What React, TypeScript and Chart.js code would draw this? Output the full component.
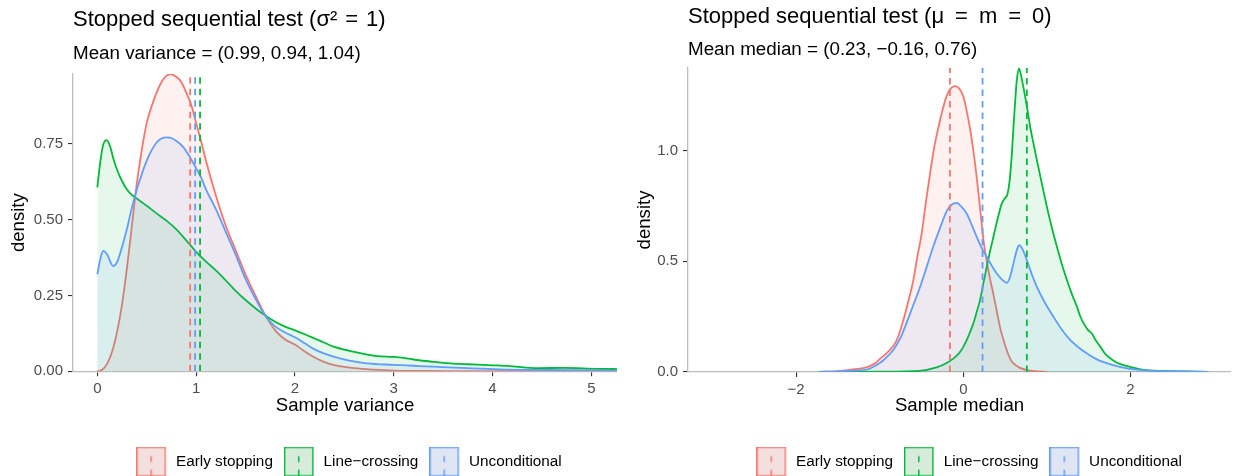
import React, { useEffect, useRef } from "react";
import { Chart, registerables } from "chart.js";

Chart.register(...registerables);

const FONT = "'Liberation Sans', Arial, Helvetica, sans-serif";
Chart.defaults.font.family = FONT;

// ---------- series meta ----------
const seriesNames = ["Early stopping", "Line\u2212crossing", "Unconditional"];
const seriesColors = ["#F8766D", "#00BA38", "#619CFF"];
const seriesFills = ["rgba(248,118,109,0.1)", "rgba(0,186,56,0.1)", "rgba(97,156,255,0.1)"];
const legendKeyFills = ["#F3DFDE", "#D7EBDB", "#DFE5F2"];

// ---------- left panel: sample variance densities ----------
const varEarly: [number, number][] = [
  [0, 0], [0.05, 0.005], [0.1, 0.025], [0.15, 0.065], [0.2, 0.13], [0.25, 0.22], [0.3, 0.34], [0.35, 0.48],
  [0.4, 0.62], [0.45, 0.73], [0.5, 0.82], [0.55, 0.875], [0.6, 0.92], [0.65, 0.955], [0.7, 0.975], [0.74, 0.981],
  [0.8, 0.972], [0.85, 0.955], [0.9, 0.92], [0.95, 0.88], [1.0, 0.82], [1.05, 0.76], [1.1, 0.695], [1.2, 0.58],
  [1.3, 0.48], [1.4, 0.4], [1.5, 0.32], [1.6, 0.25], [1.7, 0.185], [1.8, 0.135], [1.9, 0.105], [2.0, 0.088],
  [2.1, 0.065], [2.2, 0.045], [2.3, 0.03], [2.4, 0.02], [2.6, 0.01], [2.8, 0.005], [3.0, 0.002], [3.5, 0.0005],
  [4.0, 0], [5.3, 0],
];
const varLine: [number, number][] = [
  [0, 0.607], [0.03, 0.69], [0.06, 0.748], [0.095, 0.763], [0.13, 0.742], [0.16, 0.705], [0.2, 0.665], [0.25, 0.628],
  [0.3, 0.6], [0.35, 0.582], [0.4, 0.57], [0.45, 0.558], [0.5, 0.546], [0.6, 0.521], [0.7, 0.497], [0.8, 0.468],
  [0.9, 0.432], [1.0, 0.394], [1.1, 0.362], [1.2, 0.333], [1.3, 0.3], [1.4, 0.265], [1.5, 0.235], [1.6, 0.208],
  [1.7, 0.184], [1.8, 0.163], [1.9, 0.147], [2.0, 0.135], [2.1, 0.122], [2.2, 0.108], [2.3, 0.094], [2.4, 0.08],
  [2.5, 0.071], [2.6, 0.064], [2.7, 0.057], [2.83, 0.05], [3.0, 0.047], [3.1, 0.044], [3.23, 0.037], [3.4, 0.031],
  [3.57, 0.026], [3.75, 0.023], [3.9, 0.021], [4.05, 0.019], [4.2, 0.016], [4.45, 0.01], [4.72, 0.011], [5.05, 0.008],
  [5.3, 0.007],
];
const varUncond: [number, number][] = [
  [0, 0.32], [0.03, 0.37], [0.06, 0.397], [0.1, 0.385], [0.16, 0.347], [0.2, 0.36], [0.25, 0.41], [0.3, 0.47],
  [0.35, 0.54], [0.4, 0.6], [0.45, 0.65], [0.5, 0.695], [0.55, 0.73], [0.6, 0.755], [0.65, 0.768], [0.7, 0.772],
  [0.75, 0.77], [0.8, 0.76], [0.87, 0.74], [0.95, 0.7], [1.0, 0.67], [1.05, 0.64], [1.1, 0.6], [1.2, 0.535],
  [1.3, 0.46], [1.4, 0.385], [1.5, 0.305], [1.6, 0.24], [1.7, 0.183], [1.8, 0.148], [1.9, 0.128], [2.0, 0.112],
  [2.1, 0.092], [2.2, 0.072], [2.3, 0.058], [2.4, 0.047], [2.55, 0.035], [2.73, 0.026], [3.0, 0.021], [3.2, 0.018],
  [3.4, 0.015], [3.74, 0.01], [4.07, 0.006], [4.57, 0.004], [5.3, 0.002],
];
const varMeans = [0.94, 1.04, 0.99];
const varTicksX = [0, 1, 2, 3, 4, 5];
const varTicksY = [0, 0.25, 0.5, 0.75];

// ---------- right panel: sample median densities ----------
const medEarly: [number, number][] = [
  [-1.73, 0], [-1.5, 0.003], [-1.3, 0.012], [-1.15, 0.022], [-1.05, 0.04], [-1.0, 0.058], [-0.9, 0.09], [-0.8, 0.14],
  [-0.72, 0.23], [-0.65, 0.33], [-0.6, 0.41], [-0.55, 0.52], [-0.5, 0.62], [-0.45, 0.76], [-0.4, 0.89], [-0.35, 1.01],
  [-0.3, 1.1], [-0.25, 1.18], [-0.2, 1.245], [-0.15, 1.28], [-0.1, 1.29], [-0.05, 1.28], [0, 1.245], [0.04, 1.18],
  [0.08, 1.1], [0.12, 1.0], [0.16, 0.88], [0.2, 0.74], [0.24, 0.6], [0.28, 0.5], [0.32, 0.42], [0.36, 0.35],
  [0.4, 0.275], [0.44, 0.2], [0.48, 0.145], [0.52, 0.098], [0.56, 0.06], [0.6, 0.038], [0.68, 0.018], [0.76, 0.008],
  [0.85, 0.003], [1.0, 0],
];
const medLine: [number, number][] = [
  [-1.73, 0], [-1.0, 0.001], [-0.52, 0.005], [-0.32, 0.02], [-0.2, 0.04], [-0.12, 0.06], [-0.05, 0.085], [0, 0.113],
  [0.06, 0.16], [0.12, 0.219], [0.16, 0.27], [0.2, 0.324], [0.24, 0.4], [0.28, 0.474], [0.32, 0.545], [0.36, 0.61],
  [0.41, 0.69], [0.46, 0.76], [0.5, 0.785], [0.526, 0.8], [0.55, 0.85], [0.58, 0.98], [0.6, 1.107], [0.62, 1.22],
  [0.64, 1.318], [0.667, 1.37], [0.69, 1.34], [0.718, 1.287], [0.76, 1.2], [0.8, 1.107], [0.84, 1.03], [0.88, 0.956],
  [0.94, 0.85], [1.0, 0.745], [1.06, 0.65], [1.12, 0.565], [1.18, 0.485], [1.24, 0.414], [1.3, 0.35], [1.36, 0.294],
  [1.4, 0.25], [1.44, 0.219], [1.49, 0.19], [1.54, 0.172], [1.58, 0.145], [1.64, 0.113], [1.7, 0.08], [1.79, 0.053],
  [1.87, 0.036], [1.96, 0.026], [2.07, 0.016], [2.19, 0.008], [2.4, 0.004], [2.67, 0.002], [2.93, 0],
];
const medUncond: [number, number][] = [
  [-1.73, 0], [-1.5, 0.002], [-1.3, 0.006], [-1.14, 0.012], [-1.0, 0.04], [-0.95, 0.055], [-0.84, 0.098], [-0.75, 0.155],
  [-0.68, 0.22], [-0.6, 0.3], [-0.52, 0.38], [-0.45, 0.46], [-0.36, 0.565], [-0.28, 0.648], [-0.2, 0.725], [-0.14, 0.755],
  [-0.08, 0.763], [-0.02, 0.745], [0.04, 0.715], [0.1, 0.665], [0.16, 0.61], [0.22, 0.56], [0.28, 0.52], [0.34, 0.48],
  [0.4, 0.444], [0.46, 0.418], [0.52, 0.402], [0.56, 0.43], [0.6, 0.49], [0.64, 0.55], [0.67, 0.572], [0.7, 0.56],
  [0.76, 0.505], [0.82, 0.44], [0.88, 0.384], [0.98, 0.31], [1.08, 0.248], [1.18, 0.19], [1.28, 0.143], [1.38, 0.11],
  [1.48, 0.083], [1.58, 0.06], [1.67, 0.045], [1.77, 0.033], [1.87, 0.023], [2.07, 0.01], [2.3, 0.005], [2.47, 0.003],
  [2.93, 0],
];
const medMeans = [-0.16, 0.76, 0.23];
const medTicksX = [-2, 0, 2];
const medTicksY = [0, 0.5, 1.0];

// ---------- helpers ----------
function makeKey(color: string, fill: string): HTMLCanvasElement {
  const c = document.createElement("canvas");
  c.width = 32;
  c.height = 30;
  const ctx = c.getContext("2d")!;
  ctx.fillStyle = fill;
  ctx.fillRect(0.7, 0.7, 28.2, 28.6);
  ctx.strokeStyle = color;
  ctx.lineWidth = 1.4;
  ctx.strokeRect(0.7, 0.7, 28.2, 28.6);
  ctx.lineWidth = 1.5;
  ctx.beginPath();
  ctx.moveTo(14.8, 9.5);
  ctx.lineTo(14.8, 15.5);
  ctx.moveTo(14.8, 23);
  ctx.lineTo(14.8, 29.3);
  ctx.stroke();
  return c;
}

const legendShift = {
  id: "legendShift",
  afterLayout(chart: any, _args: any, opts: any) {
    const lg = chart.legend;
    if (!lg) return;
    const dx = (opts && opts.dx) || 0;
    lg.left += dx;
    lg.right += dx;
  },
};

type Panel = {
  title: string;
  subtitle: string;
  xTitle: string;
  series: [number, number][][];
  means: number[];
  xMin: number;
  xMax: number;
  yMax: number;
  xTicks: number[];
  yTicks: number[];
  yDigits: number;
  layout: {
    titlePad: { top: number; bottom: number };
    subPad: { top: number; bottom: number };
    yScaleW: number;
    xScaleH: number;
    yTitlePadTop: number;
    xTitlePadBottom: number;
    padRight: number;
    padBottom: number;
    legendDx: number;
  };
};

function fmtTick(v: number, digits: number) {
  const s = Math.abs(v).toFixed(digits);
  return v < 0 ? "\u2212" + s : s;
}

function buildConfig(p: Panel): any {
  const datasets: any[] = [];
  p.series.forEach((pts, i) => {
    datasets.push({
      label: seriesNames[i],
      data: pts.map(([x, y]) => ({ x, y })),
      borderColor: seriesColors[i],
      backgroundColor: seriesFills[i],
      borderWidth: 1.8,
      fill: "origin",
      pointRadius: 0,
      cubicInterpolationMode: "monotone",
      order: 3 - i,
    });
  });
  p.means.forEach((m, i) => {
    datasets.push({
      label: seriesNames[i] + " mean",
      data: [
        { x: m, y: 0 },
        { x: m, y: p.yMax },
      ],
      borderColor: seriesColors[i],
      borderWidth: 1.8,
      borderDash: [6.5, 5],
      fill: false,
      pointRadius: 0,
      order: -1,
    });
  });
  const keys = seriesColors.map((c, i) => makeKey(c, legendKeyFills[i]));
  const L = p.layout;
  return {
    type: "line",
    data: { datasets },
    plugins: [legendShift],
    options: {
      responsive: false,
      animation: false,
      events: [],
      layout: { padding: { left: 0, top: 0, right: L.padRight, bottom: L.padBottom } },
      plugins: {
        legendShift: { dx: L.legendDx },
        tooltip: { enabled: false },
        title: {
          display: true,
          text: p.title,
          align: "start",
          fullSize: false,
          color: "#000000",
          font: { size: 22, weight: "normal", family: FONT, lineHeight: 1.2 },
          padding: L.titlePad,
        },
        subtitle: {
          display: true,
          text: p.subtitle,
          align: "start",
          fullSize: false,
          color: "#000000",
          font: { size: 18.8, weight: "normal", family: FONT, lineHeight: 1.2 },
          padding: L.subPad,
        },
        legend: {
          display: true,
          position: "bottom",
          align: "center",
          fullSize: false,
          labels: {
            usePointStyle: true,
            pointStyleWidth: 32,
            padding: 11,
            color: "#000000",
            font: { size: 15.3, family: FONT },
            generateLabels: () =>
              seriesNames.map((n, i) => ({
                text: n,
                pointStyle: keys[i],
                fillStyle: legendKeyFills[i],
                strokeStyle: seriesColors[i],
                lineWidth: 0,
                hidden: false,
                datasetIndex: i,
              })),
          },
        },
      },
      scales: {
        x: {
          type: "linear",
          min: p.xMin,
          max: p.xMax,
          afterBuildTicks: (s: any) => {
            s.ticks = p.xTicks.map((v) => ({ value: v }));
          },
          afterFit: (s: any) => {
            s.height = L.xScaleH;
          },
          grid: { display: true, drawOnChartArea: false, drawTicks: true, tickLength: 5, color: "#333333", lineWidth: 1.1 },
          border: { display: true, color: "#BDBDBD", width: 1.3 },
          ticks: {
            padding: 3.5,
            color: "#4D4D4D",
            font: { size: 15, family: FONT },
            maxRotation: 0,
            autoSkip: false,
            callback: (v: any) => fmtTick(Number(v), 0),
          },
          title: {
            display: true,
            text: p.xTitle,
            color: "#000000",
            font: { size: 18.6, family: FONT, lineHeight: 1.2 },
            padding: { top: 0, bottom: L.xTitlePadBottom },
          },
        },
        y: {
          type: "linear",
          min: 0,
          max: p.yMax,
          afterBuildTicks: (s: any) => {
            s.ticks = p.yTicks.map((v) => ({ value: v }));
          },
          afterFit: (s: any) => {
            s.width = L.yScaleW;
          },
          grid: { display: true, drawOnChartArea: false, drawTicks: true, tickLength: 5, color: "#333333", lineWidth: 1.1 },
          border: { display: true, color: "#BDBDBD", width: 1.3 },
          ticks: {
            padding: 5,
            color: "#4D4D4D",
            font: { size: 15, family: FONT },
            autoSkip: false,
            callback: (v: any) => fmtTick(Number(v), p.yDigits),
          },
          title: {
            display: true,
            text: "density",
            color: "#000000",
            font: { size: 18.6, family: FONT, lineHeight: 1.2 },
            padding: { top: L.yTitlePadTop, bottom: 0 },
          },
        },
      },
    },
  };
}

const leftPanel: Panel = {
  title: "Stopped sequential test (\u03C3\u00B2\u200A = \u200A1)",
  subtitle: "Mean variance = (0.99, 0.94, 1.04)",
  xTitle: "Sample variance",
  series: [varEarly, varLine, varUncond],
  means: varMeans,
  xMin: -0.246,
  xMax: 5.26,
  yMax: 0.981,
  xTicks: varTicksX,
  yTicks: varTicksY,
  yDigits: 2,
  layout: {
    titlePad: { top: 6.5, bottom: 0 },
    subPad: { top: 9.5, bottom: 9.1 },
    yScaleW: 73,
    xScaleH: 71.75,
    yTitlePadTop: 7.5,
    xTitlePadBottom: 26.3,
    padRight: 0,
    padBottom: 2.75,
    legendDx: 4,
  },
};

const rightPanel: Panel = {
  title: "Stopped sequential test (\u03BC\u2002=\u2002m\u2002=\u20020)",
  subtitle: "Mean median = (0.23, \u22120.16, 0.76)",
  xTitle: "Sample median",
  series: [medEarly, medLine, medUncond],
  means: medMeans,
  xMin: -3.293,
  xMax: 3.202,
  yMax: 1.372,
  xTicks: medTicksX,
  yTicks: medTicksY,
  yDigits: 1,
  layout: {
    titlePad: { top: 4.2, bottom: 0 },
    subPad: { top: 7.8, bottom: 7.1 },
    yScaleW: 71,
    xScaleH: 71.05,
    yTitlePadTop: 17,
    xTitlePadBottom: 26.3,
    padRight: 2,
    padBottom: 2.75,
    legendDx: 9.6,
  },
};

function PanelChart({ panel, left, width }: { panel: Panel; left: number; width: number }) {
  const ref = useRef<HTMLCanvasElement | null>(null);
  useEffect(() => {
    if (!ref.current) return;
    const chart = new Chart(ref.current, buildConfig(panel));
    return () => chart.destroy();
  }, [panel]);
  return (
    <canvas
      ref={ref}
      width={width}
      height={482}
      style={{ position: "absolute", left, top: 0, width, height: 482, display: "block" }}
    />
  );
}

export default function App() {
  return (
    <div
      style={{
        position: "fixed",
        left: 0,
        top: 0,
        width: 1233,
        height: 476,
        overflow: "hidden",
        background: "#FFFFFF",
      }}
    >
      <PanelChart panel={leftPanel} left={0} width={617} />
      <PanelChart panel={rightPanel} left={617} width={616} />
    </div>
  );
}
